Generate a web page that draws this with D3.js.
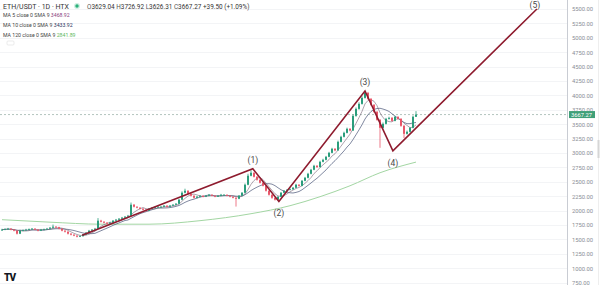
<!DOCTYPE html>
<html><head><meta charset="utf-8">
<script src="https://cdn.jsdelivr.net/npm/d3@7/dist/d3.min.js"></script>
<style>html,body{margin:0;padding:0;background:#fff;}svg{display:block;font-family:Roboto,"Liberation Sans",sans-serif;}</style>
</head><body><svg id="c" width="600" height="285"></svg>
<script>
// ---- data (ETH/USDT daily candles) ----
const opens = [1660,1669,1678,1686,1669,1651,1599,1651,1660,1669,
 1678,1686,1669,1651,1669,1675,1686,1703,1721,1712,
 1686,1651,1634,1599,1582,1565,1547,1556,1582,1617,
 1651,1669,1686,1825,1807,1790,1773,1790,1825,1842,
 1859,1877,1894,1911,2102,2067,2050,2032,2015,1998,
 2032,2050,2058,2067,2067,2085,2067,2085,2102,2119,
 2189,2310,2345,2293,2258,2223,2241,2258,2241,2258,
 2275,2258,2241,2258,2275,2275,2258,2241,2223,2206,
 2258,2310,2449,2605,2657,2587,2535,2483,2431,2345,
 2275,2223,2189,2241,2310,2345,2362,2370,2397,2449,
 2430,2518,2570,2639,2709,2778,2755,2847,2882,2934,
 3003,3073,3045,3194,3281,3350,3420,3390,3645,3766,
 3853,3957,4044,3940,3836,3714,3576,3437,3506,3593,
 3610,3558,3627,3593,3472,3333,3368,3437,3629.04];
const highs = [1685,1692,1700,1695,1680,1660,1668,1672,1684,1690,
 1698,1694,1676,1682,1688,1700,1716,1758,1730,1720,
 1692,1660,1640,1610,1590,1572,1570,1590,1628,1665,
 1680,1700,1870,1840,1815,1800,1805,1836,1855,1870,
 1890,1905,1925,2140,2115,2075,2060,2045,2025,2045,
 2062,2070,2080,2078,2096,2092,2098,2112,2130,2205,
 2335,2380,2352,2300,2266,2255,2270,2264,2270,2288,
 2282,2265,2270,2290,2286,2280,2264,2248,2230,2270,
 2320,2470,2640,2700,2665,2600,2545,2495,2440,2352,
 2282,2230,2250,2322,2356,2372,2385,2410,2465,2458,
 2530,2585,2655,2725,2795,2790,2865,2900,2950,3020,
 3090,3085,3215,3300,3370,3440,3432,3670,3790,3880,
 3985,4078,4060,3955,3850,3730,3590,3530,3610,3630,
 3625,3645,3640,3605,3485,3390,3450,3650,3726.92];
const lows = [1650,1660,1670,1658,1640,1585,1592,1642,1652,1660,
 1668,1660,1640,1645,1660,1668,1678,1695,1700,1675,
 1640,1620,1585,1570,1555,1535,1540,1548,1575,1608,
 1642,1660,1680,1795,1778,1760,1765,1782,1815,1832,
 1850,1868,1885,1905,2055,2040,2020,2005,1985,1990,
 2025,2040,2050,2058,2060,2055,2060,2078,2095,2110,
 2180,2300,2280,2245,2210,2215,2232,2230,2235,2250,
 2250,2232,2236,2250,2265,2248,2230,2212,2070,2198,
 2250,2300,2440,2595,2575,2520,2470,2420,2330,2260,
 2205,2175,2182,2235,2300,2338,2355,2362,2390,2418,
 2422,2510,2560,2630,2700,2740,2748,2838,2872,2925,
 2995,3030,3040,3185,3270,3340,3375,3385,3630,3750,
 3840,3945,3925,3820,3700,3560,3090,3425,3495,3580,
 3545,3550,3580,3455,3260,3320,3355,3428,3626.31];
const closes = [1669,1678,1686,1669,1651,1599,1651,1660,1669,1678,
 1686,1669,1651,1669,1675,1686,1703,1721,1712,1686,
 1651,1634,1599,1582,1565,1547,1556,1582,1617,1651,
 1669,1686,1825,1807,1790,1773,1790,1825,1842,1859,
 1877,1894,1911,2102,2067,2050,2032,2015,1998,2032,
 2050,2058,2067,2067,2085,2067,2085,2102,2119,2189,
 2310,2345,2293,2258,2223,2241,2258,2241,2258,2275,
 2258,2241,2258,2275,2275,2258,2241,2223,2206,2258,
 2310,2449,2605,2657,2587,2535,2483,2431,2345,2275,
 2223,2189,2241,2310,2345,2362,2370,2397,2449,2430,
 2518,2570,2639,2709,2778,2755,2847,2882,2934,3003,
 3073,3045,3194,3281,3350,3420,3390,3645,3766,3853,
 3957,4044,3940,3836,3714,3576,3437,3506,3593,3610,
 3558,3627,3593,3472,3333,3368,3437,3629.04,3667.27];
// MA120 read at a few candle positions
const ma120Idx = [0,16,33,49,66,83,96,106,116,126,138];
const ma120Val = [1842,1799,1764,1764,1825,1946,2085,2241,2431,2657,2841.89];
// Elliott wave drawing (candle position, price)
const waveIdx = [26.7,83.6,92.3,121,130.3,178.3];
const waveVal = [1570,2726,2159,4078,3038,5500];
const waveLabels = ["","(1)","(2)","(3)","(4)","(5)"];
const yTicks = [750,1000,1250,1500,1750,2000,2250,2500,2750,3000,3250,3500,3750,4000,4250,4500,4750,5000,5250,5500];
const lastPrice = 3667.27;
const legendTitle = "ETH/USDT · 1D · HTX";
const ohlcLabels = ["O","H","L","C"];
const ohlcVals = ["3629.04","3726.92","3626.31","3667.27"];
const changeText = "+39.50 (+1.09%)";
const maNames = ["MA 5 close 0 SMA 9","MA 10 close 0 SMA 9","MA 120 close 0 SMA 9"];
const maVals = ["3468.92","3433.92","2841.89"];

// ---- drawing ----
const svg = d3.select("#c");
const W = 600, H = 285, axisX = 567;
const x = d3.scaleLinear().domain([0, 138]).range([2, 416]);
const y = d3.scaleLinear().domain([750, 5500]).range([282.6, 9]);
const UP = "#2a9d7c", DOWN = "#e8576a";
const n = closes.length;
const idx = d3.range(n);

// grid
svg.append("g").selectAll("line").data(yTicks).join("line")
  .attr("x1",0).attr("x2",axisX).attr("y1",d=>Math.round(y(d))+0.5).attr("y2",d=>Math.round(y(d))+0.5)
  .attr("stroke","#f3f4f6").attr("stroke-width",1);

// price line
svg.append("line").attr("x1",0).attr("x2",axisX)
  .attr("y1",y(lastPrice)).attr("y2",y(lastPrice))
  .attr("stroke","#9fb5ad").attr("stroke-width",0.8).attr("stroke-dasharray","2,2");

// MA lines
function sma(p){ return idx.map(i=>d3.mean(closes.slice(Math.max(0,i-p+1), i+1))); }
const line = d3.line().x(d=>x(d[0])).y(d=>y(d[1]));
svg.append("path").datum(ma120Idx.map((d,i)=>[d, ma120Val[i]]))
  .attr("d", d3.line().x(d=>x(d[0])).y(d=>y(d[1])).curve(d3.curveMonotoneX))
  .attr("fill","none").attr("stroke","#a3d6a3").attr("stroke-width",1);
const ma10 = sma(10), ma5 = sma(5);
svg.append("path").datum(idx.map(i=>[i, ma10[i]])).attr("d", line)
  .attr("fill","none").attr("stroke","#2a3760").attr("stroke-opacity",0.75).attr("stroke-width",0.8);
svg.append("path").datum(idx.map(i=>[i, ma5[i]])).attr("d", line)
  .attr("fill","none").attr("stroke","#6e5a6e").attr("stroke-opacity",0.7).attr("stroke-width",0.8);

// candles
const cg = svg.append("g");
cg.selectAll("line").data(idx).join("line")
  .attr("x1",i=>x(i)).attr("x2",i=>x(i))
  .attr("y1",i=>y(highs[i])).attr("y2",i=>y(lows[i]))
  .attr("stroke",i=>closes[i]>=opens[i]?UP:DOWN).attr("stroke-width",0.8);
cg.selectAll("rect").data(idx).join("rect")
  .attr("x",i=>x(i)-1).attr("width",2)
  .attr("y",i=>y(Math.max(opens[i],closes[i])))
  .attr("height",i=>Math.max(0.8, Math.abs(y(opens[i])-y(closes[i]))))
  .attr("fill",i=>closes[i]>=opens[i]?UP:DOWN);

// wave
svg.append("path").datum(waveIdx.map((d,i)=>[d, waveVal[i]])).attr("d", line)
  .attr("fill","none").attr("stroke","#8e1b2e").attr("stroke-width",1.6).attr("stroke-linejoin","miter");
const labOff = [0,-9,12,-9,12,-4];
svg.append("g").selectAll("text").data(waveIdx.map((d,i)=>i).filter(i=>waveLabels[i])).join("text")
  .attr("x",i=>x(waveIdx[i])-(i===5?2:0)).attr("y",i=>y(waveVal[i])+labOff[i]+3)
  .attr("text-anchor","middle").attr("font-size",8.5).attr("fill","#4a4a4a")
  .text(i=>waveLabels[i]);

// right axis
svg.append("rect").attr("x",axisX).attr("y",0).attr("width",W-axisX).attr("height",H).attr("fill","#fff");
svg.append("line").attr("x1",axisX+0.5).attr("x2",axisX+0.5).attr("y1",0).attr("y2",H).attr("stroke","#c9ccd3").attr("stroke-width",1);
const ax = svg.append("g").attr("transform",`translate(${axisX},0)`)
  .call(d3.axisRight(y).tickValues(yTicks).tickFormat(d3.format(".2f")).tickSize(0).tickPadding(5));
ax.select(".domain").remove();
ax.selectAll("text").attr("font-size",5.8).attr("fill","#8a8d96").attr("font-family","Roboto,sans-serif");
// scrollbar
svg.append("line").attr("x1",598.5).attr("x2",598.5).attr("y1",0).attr("y2",H).attr("stroke","#eeeeee");
svg.append("rect").attr("x",597.5).attr("y",140).attr("width",2).attr("height",18).attr("fill","#d6d6d6");
// price tag
const py = y(lastPrice);
svg.append("rect").attr("x",axisX+2).attr("y",py-3.5).attr("width",26).attr("height",7).attr("fill","#3f9f78");
svg.append("text").attr("x",axisX+4).attr("y",py+2).attr("font-size",5.8).attr("fill","#fff").text(lastPrice.toFixed(2));

// legend
const lg = svg.append("g");
lg.append("text").attr("x",3).attr("y",8.5).attr("font-size",7).attr("fill","#333").text(legendTitle);
lg.append("circle").attr("cx",77).attr("cy",6).attr("r",3).attr("fill","#cfeee2");
lg.append("circle").attr("cx",77).attr("cy",6).attr("r",1.7).attr("fill","#2bb07a");
const ot = lg.append("text").attr("x",87).attr("y",8.5).attr("font-size",6.4).attr("fill","#333");
ohlcLabels.forEach((l,i)=>{ ot.append("tspan").attr("fill","#555").text((i?" ":"")+l); ot.append("tspan").attr("fill","#333").text(ohlcVals[i]); });
ot.append("tspan").attr("fill","#333").text(" "+changeText);
const maCols = ["#8a3f7e","#2a3760","#5cb85c"];
maNames.forEach((m,i)=>{
  const t = lg.append("text").attr("x",3).attr("y",17+i*10).attr("font-size",5.2).attr("fill","#444");
  t.append("tspan").text(m+" ");
  t.append("tspan").attr("fill",maCols[i]).text(maVals[i]);
});
lg.append("rect").attr("x",7).attr("y",41).attr("width",7).attr("height",4).attr("rx",1).attr("fill","none").attr("stroke","#ddd").attr("stroke-width",0.6);

// TV logo
svg.append("text").attr("x",4).attr("y",281).attr("font-size",10).attr("font-weight",900).attr("fill","#131722").attr("letter-spacing",-1).text("TV");
</script></body></html>
